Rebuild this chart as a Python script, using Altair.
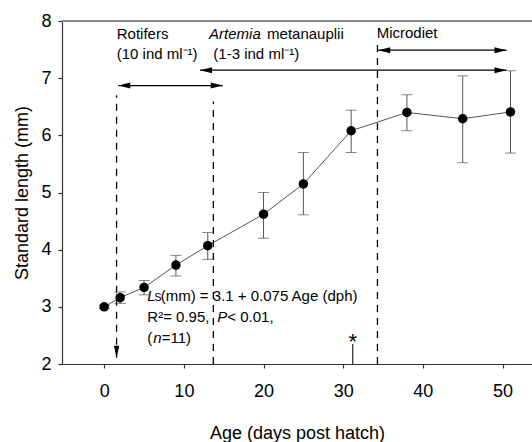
import altair as alt
import pandas as pd

# ---- data ----
age = [0, 2, 5, 9, 13, 20, 25, 31, 38, 45, 51]
length_mean = [3.00, 3.16, 3.34, 3.73, 4.07, 4.62, 5.15, 6.08, 6.40, 6.29, 6.41]
length_lo = [2.97, 3.06, 3.21, 3.54, 3.83, 4.20, 4.61, 5.70, 6.08, 5.52, 5.69]
length_hi = [3.03, 3.26, 3.46, 3.90, 4.30, 5.00, 5.70, 6.44, 6.71, 7.04, 7.13]

x_ticks = [0, 10, 20, 30, 40, 50]
y_ticks = [2, 3, 4, 5, 6, 7, 8]

# feeding-regime boundaries (days) and their dashed-line extents (mm)
regime_age = [1.55, 13.7, 34.3]
regime_top = [6.70, 6.59, 7.62]
regime_bottom = [2.11, 2.0, 2.0]

# feeding-period arrows: start day, end day, level (mm)
arrow_start = [1.77, 12.03, 34.4]
arrow_end = [14.88, 50.5, 50.5]
arrow_level = [6.87, 7.14, 7.49]

FONT = "Liberation Sans"
x_scale = alt.Scale(domain=[-5.3, 53.7], nice=False, zero=False)
y_scale = alt.Scale(domain=[2, 8], nice=False, zero=False)

x_axis = alt.Axis(values=x_ticks, title="Age (days post hatch)", tickSize=4,
                  labelPadding=14, titleY=74.5, titleBaseline="alphabetic")
y_axis = alt.Axis(values=y_ticks, title="Standard length (mm)", tickSize=4,
                  labelPadding=7, titleX=-35, titleBaseline="alphabetic")

df = pd.DataFrame({"age": age, "mean": length_mean, "lo": length_lo, "hi": length_hi})
base = alt.Chart(df)


def xq(field):
    return alt.X(field, type="quantitative", scale=x_scale, axis=x_axis)


def yq(field):
    return alt.Y(field, type="quantitative", scale=y_scale, axis=y_axis)


line = base.mark_line(color="#555555", strokeWidth=1).encode(xq("age"), yq("mean"))
err = base.mark_rule(color="#555555", strokeWidth=1).encode(xq("age"), yq("lo"), y2="hi:Q")
cap_lo = base.mark_tick(orient="horizontal", size=11, thickness=1, color="#555555").encode(xq("age"), yq("lo"))
cap_hi = base.mark_tick(orient="horizontal", size=11, thickness=1, color="#555555").encode(xq("age"), yq("hi"))
pts = base.mark_point(filled=True, size=90, color="black", opacity=1).encode(xq("age"), yq("mean"))

reg = pd.DataFrame({"x": regime_age, "top": regime_top, "bot": regime_bottom})
dashed = alt.Chart(reg).mark_rule(color="black", strokeWidth=1.3, strokeDash=[7, 6]).encode(
    xq("x"), yq("bot"), y2="top:Q")

down_head = alt.Chart(reg.iloc[[0]]).mark_point(
    shape="M0,0L-0.45,-2L0.45,-2Z", filled=True, size=144, color="black", opacity=1
).encode(xq("x"), yq("bot"))

arr = pd.DataFrame({"s": arrow_start, "e": arrow_end, "y": arrow_level})
arrow_lines = alt.Chart(arr).mark_rule(color="black", strokeWidth=1.3).encode(xq("s"), x2="e:Q", y=yq("y"))
left_heads = alt.Chart(arr).mark_point(
    shape="M0,0L2,-0.5L2,0.5Z", filled=True, size=144, color="black", opacity=1
).encode(xq("s"), yq("y"))
right_heads = alt.Chart(arr).mark_point(
    shape="M0,0L-2,-0.5L-2,0.5Z", filled=True, size=144, color="black", opacity=1
).encode(xq("e"), yq("y"))

star_df = pd.DataFrame({"x": [31.2], "y0": [2.0], "y1": [2.35], "ys": [2.27]})
star_line = alt.Chart(star_df).mark_rule(color="black", strokeWidth=1).encode(xq("x"), yq("y0"), y2="y1:Q")
star = alt.Chart(star_df).mark_text(text="*", font=FONT, fontSize=22, align="center",
                                    baseline="alphabetic", color="black").encode(xq("x"), yq("ys"))

# text annotations: (text, day, mm, dx, italic, size)
labels = [
    ("Rotifers", 1.57, 7.68, 0, False, 15),
    ("(10 ind ml\u207b\u00b9)", 1.57, 7.33, 0, False, 15),
    ("Artemia", 13.16, 7.68, 0, True, 15),
    ("metanauplii", 13.16, 7.68, 58, False, 15),
    ("(1-3 ind ml\u207b\u00b9)", 13.70, 7.33, 0, False, 15),
    ("Microdiet", 34.2, 7.70, 0, False, 15),
    ("L", 5.41, 3.10, 0, True, 15),
    ("S", 5.41, 3.10, 7, False, 11),
    ("(mm) = 3.1 + 0.075 Age (dph)", 5.41, 3.10, 13.4, False, 15),
    ("R\u00b2= 0.95,", 5.41, 2.74, 0, False, 15),
    ("P", 5.41, 2.74, 70, True, 15),
    ("< 0.01,", 5.41, 2.74, 80, False, 15),
    ("(", 5.41, 2.373, 0, False, 15),
    ("n", 5.41, 2.373, 6, True, 15),
    ("=11)", 5.41, 2.373, 14.4, False, 15),
]
text_layers = []
for t, xv, yv, dx, it, fs in labels:
    d = pd.DataFrame({"x": [xv], "y": [yv]})
    kw = dict(text=t, font=FONT, fontSize=fs, align="left", baseline="alphabetic", dx=dx, color="black")
    if it:
        kw["fontStyle"] = "italic"
    text_layers.append(alt.Chart(d).mark_text(**kw).encode(xq("x"), yq("y")))

top_border = alt.Chart(df).mark_rule(color="#8c8c8c", strokeWidth=1.5).encode(
    x=alt.value(0), x2=alt.value(470), y=alt.value(0))

chart = alt.layer(
    line, top_border, dashed, down_head, arrow_lines, left_heads, right_heads,
    err, cap_lo, cap_hi, pts, star_line, star, *text_layers
).properties(
    width=470, height=343,
    autosize=alt.AutoSizeParams(type="none"),
    padding={"left": 62, "top": 21, "right": 0, "bottom": 78},
).configure_view(stroke=None).configure(
    font=FONT
).configure_axis(
    grid=False, domainColor="#333333", tickColor="#333333", domainWidth=1.2, tickWidth=1.2,
    labelFont=FONT, labelFontSize=18, labelColor="black",
    titleFont=FONT, titleFontSize=18, titleColor="black", titleFontWeight="normal",
)

chart.save("out.html", embed_options={"renderer": "svg", "actions": False})
